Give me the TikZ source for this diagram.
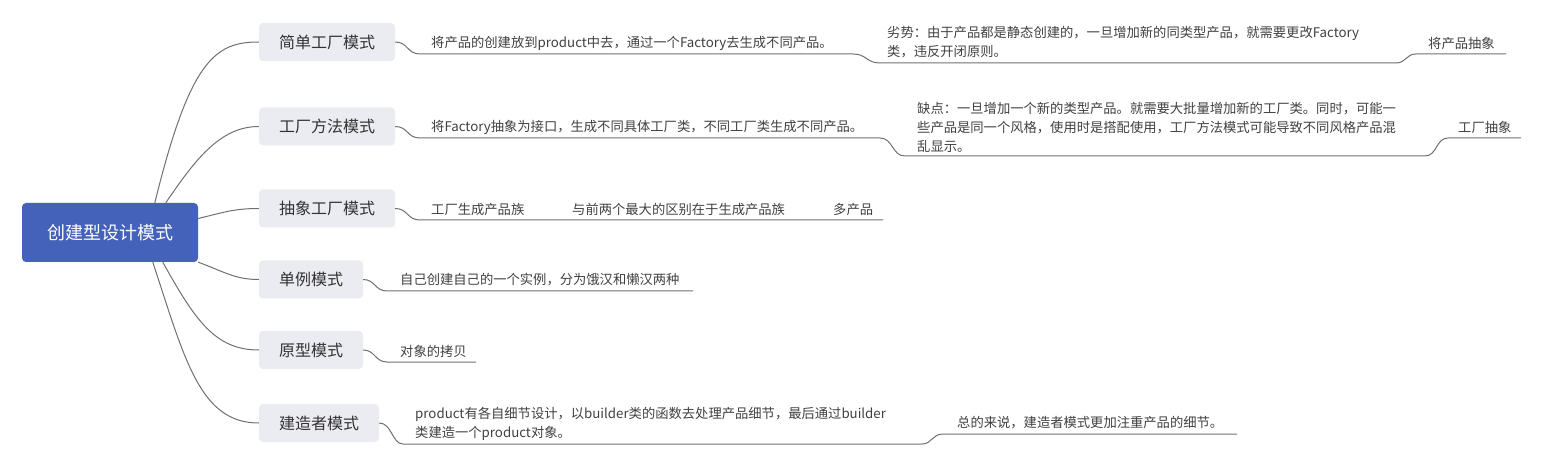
\documentclass[tikz,border=0pt]{standalone}
\usepackage{fontspec}
\setmainfont{Noto Sans CJK SC}
\definecolor{rootblue}{HTML}{4462B9}
\definecolor{topicgray}{HTML}{EBEBF2}
\definecolor{textdark}{HTML}{333333}
\definecolor{textgray}{HTML}{404040}
\definecolor{linegray}{HTML}{707070}
\begin{document}
\begin{tikzpicture}[x=1pt,y=-1pt,
  rootnode/.style={fill=rootblue, rounded corners=4pt, text=white, font=\fontsize{18}{22}\selectfont, minimum width=176pt, minimum height=59pt, inner sep=0pt},
  topic/.style={fill=topicgray, rounded corners=4pt, text=textdark, font=\fontsize{16}{20}\selectfont, minimum height=38pt, inner sep=0pt},
  leaf/.style={anchor=west, inner sep=0pt, text=textgray, font=\fontsize{13.3}{19}\selectfont, align=left},
  conn/.style={draw=linegray, line width=1pt}]
\useasboundingbox (0,0) rectangle (1543,465);

% root
\node[rootnode] (root) at (110,232.5) {创建型设计模式};

% main topics
\node[topic, minimum width=136pt] (n1) at (327,42) {简单工厂模式};
\node[topic, minimum width=136pt] (n2) at (327,126.5) {工厂方法模式};
\node[topic, minimum width=136pt] (n3) at (327,208.5) {抽象工厂模式};
\node[topic, minimum width=104pt] (n4) at (311,279.5) {单例模式};
\node[topic, minimum width=104pt] (n5) at (311,350) {原型模式};
\node[topic, minimum width=120pt] (n6) at (319,423) {建造者模式};

% root connectors
\draw[conn] ([xshift=133pt]root.north west) .. controls (190,60) and (215,42) .. (n1.west);
\draw[conn] ([xshift=144pt]root.north west) .. controls (195,160) and (220,126.5) .. (n2.west);
\draw[conn] ([yshift=14pt]root.east) .. controls (225,212) and (235,208.5) .. (n3.west);
\draw[conn] (root.south east) .. controls (225,272) and (235,279.5) .. (n4.west);
\draw[conn] ([xshift=141pt]root.south west) .. controls (195,320) and (215,350) .. (n5.west);
\draw[conn] ([xshift=131pt]root.south west) .. controls (185,360) and (200,423) .. (n6.west);

% row 1
\node[leaf] (t11) at (431,43) {将产品的创建放到product中去，通过一个Factory去生成不同产品。};
\node[leaf] (t12) at (887,42.5) {劣势：由于产品都是静态创建的，一旦增加新的同类型产品，就需要更改Factory\\类，违反开闭原则。};
\node[leaf] (t13) at (1428,43) {将产品抽象};
\coordinate (a11) at (420,54);
\coordinate (b11) at (853,54);
\coordinate (a12) at (880,63);
\coordinate (b12) at (1396,63);
\coordinate (a13) at (1416,54);
\coordinate (b13) at (1506,54);
\draw[conn] (n1.east) .. controls (408,42) and (407,54) .. (a11) -- (b11)
  .. controls (867,54) and (866,63) .. (a12) -- (b12)
  .. controls (1406,63) and (1406,54) .. (a13) -- (b13);

% row 2
\node[leaf] (t21) at (431,127) {将Factory抽象为接口，生成不同具体工厂类，不同工厂类生成不同产品。};
\node[leaf] (t22) at (917,127) {缺点：一旦增加一个新的类型产品。就需要大批量增加新的工厂类。同时，可能一\\些产品是同一个风格，使用时是搭配使用，工厂方法模式可能导致不同风格产品混\\乱显示。};
\node[leaf] (t23) at (1458,127) {工厂抽象};
\coordinate (a21) at (420,138);
\coordinate (b21) at (880,138);
\coordinate (a22) at (905,156);
\coordinate (b22) at (1425,156);
\coordinate (a23) at (1448,138);
\coordinate (b23) at (1521,138);
\draw[conn] (n2.east) .. controls (408,126.5) and (407,138) .. (a21) -- (b21)
  .. controls (893,138) and (892,156) .. (a22) -- (b22)
  .. controls (1437,156) and (1436,138) .. (a23) -- (b23);

% row 3
\node[leaf] (t31) at (431,209) {工厂生成产品族};
\node[leaf] (t32) at (572,209) {与前两个最大的区别在于生成产品族};
\node[leaf] (t33) at (833,209) {多产品};
\coordinate (a31) at (420,220);
\coordinate (b33) at (883,220);
\draw[conn] (n3.east) .. controls (408,208.5) and (407,220) .. (a31) -- (b33);

% row 4
\node[leaf] (t41) at (400,280) {自己创建自己的一个实例，分为饿汉和懒汉两种};
\coordinate (a41) at (387,291);
\coordinate (b41) at (693,291);
\draw[conn] (n4.east) .. controls (375,279.5) and (375,291) .. (a41) -- (b41);

% row 5
\node[leaf] (t51) at (400,351) {对象的拷贝};
\coordinate (a51) at (387,362);
\coordinate (b51) at (476,362);
\draw[conn] (n5.east) .. controls (375,350) and (375,362) .. (a51) -- (b51);

% row 6
\node[leaf] (t61) at (415,423.5) {product有各自细节设计，以builder类的函数去处理产品细节，最后通过builder\\类建造一个product对象。};
\node[leaf] (t62) at (957,423) {总的来说，建造者模式更加注重产品的细节。};
\coordinate (a61) at (403,444);
\coordinate (b61) at (922,444);
\coordinate (a62) at (943,434);
\coordinate (b62) at (1237,434);
\draw[conn] (n6.east) .. controls (392,423) and (392,444) .. (a61) -- (b61)
  .. controls (932,444) and (932,434) .. (a62) -- (b62);
\end{tikzpicture}
\end{document}
